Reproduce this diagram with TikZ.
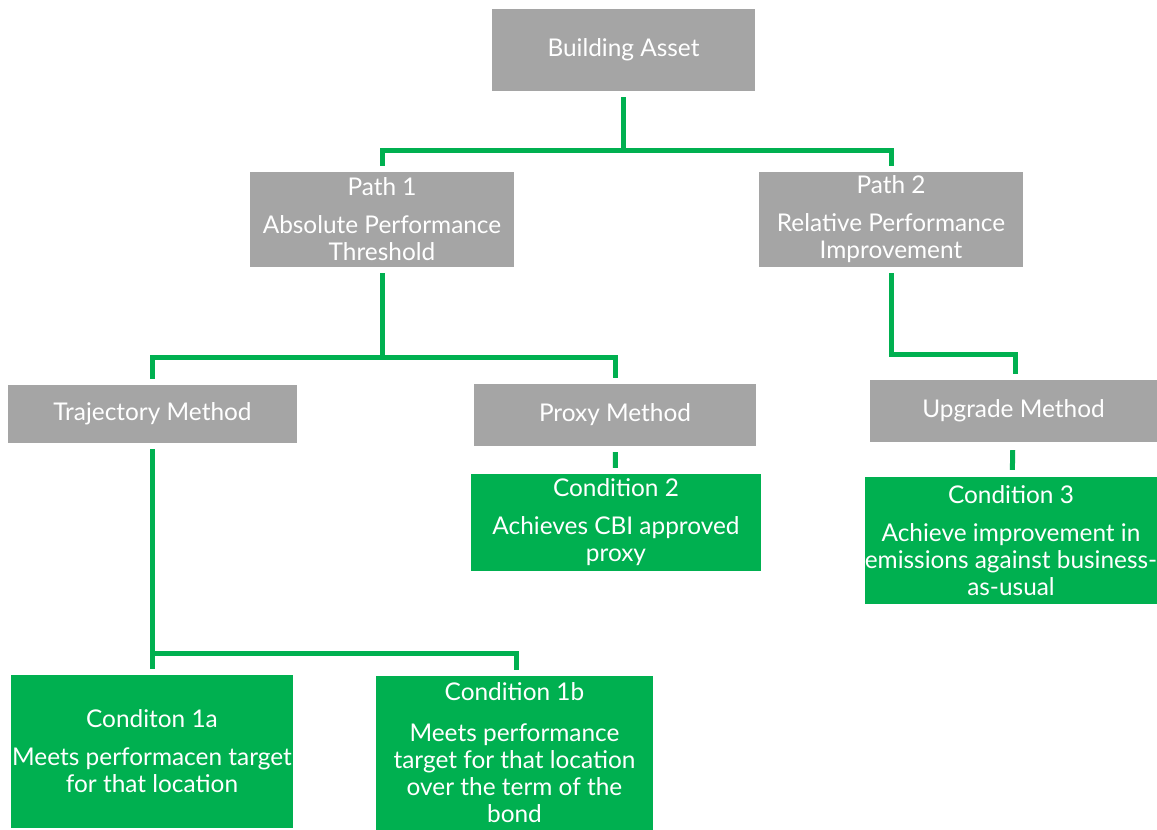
\documentclass[tikz,border=0pt]{standalone}
\usepackage{fontspec}
\setmainfont{Lato}
\definecolor{boxgray}{HTML}{A5A5A5}
\definecolor{condgreen}{HTML}{00B050}

\begin{document}
\begin{tikzpicture}[x=1pt,y=-1pt,
			graybox/.style={fill=boxgray, text=white, inner sep=0pt, align=center, font=\fontsize{24.4}{27}\selectfont},
			greenbox/.style={graybox, fill=condgreen},
			link/.style={draw=condgreen, line width=5pt, shorten <=6pt, shorten >=6pt},
		]
			\useasboundingbox (0,0) rectangle (1157,830);

			% top level
			\node[graybox, minimum width=263pt, minimum height=82pt] (asset) at (623.5,50) {Building Asset};

			% paths
			\node[graybox, minimum width=264pt, minimum height=95pt] (path1) at (382,219.5) {Path 1\\[11pt]Absolute Performance\\Threshold};
			\node[graybox, minimum width=264pt, minimum height=95pt] (path2) at (891,219.5) {Path 2\\[11pt]Relative Performance\\Improvement};

			% methods
			\node[graybox, minimum width=289pt, minimum height=58pt] (trajectory) at (152.5,414) {Trajectory Method};
			\node[graybox, minimum width=282pt, minimum height=62pt] (proxy) at (615,415) {Proxy Method};
			\node[graybox, minimum width=287pt, minimum height=62pt] (upgrade) at (1013.5,411) {Upgrade Method};

			% conditions
			\node[greenbox, minimum width=290pt, minimum height=97pt] (cond2) at (616,522.5) {Condition 2\\[11pt]Achieves CBI approved\\proxy};
			\node[greenbox, minimum width=292pt, minimum height=127pt] (cond3) at (1011,540.5) {Condition 3\\[11pt]Achieve improvement in\\emissions against business-\\as-usual};
			\node[greenbox, minimum width=282pt, minimum height=153pt] (cond1a) at (152,751.5) {Conditon 1a\\[11pt]Meets performacen target\\for that location};
			\node[greenbox, minimum width=277pt, minimum height=154pt] (cond1b) at (514.5,753) {Condition 1b\\[14pt]Meets performance\\target for that location\\over the term of the\\bond};

			% connectors
			\draw[link] (asset.south) -- ++(0,59) -| (path1.north);
			\draw[link] (asset.south) -- ++(0,59) -| (path2.north);
			\draw[link] (path1.south) -- ++(0,90) -| (trajectory.north);
			\draw[link] (path1.south) -- ++(0,90) -| (proxy.north);
			\draw[link] (path2.south) -- ++(0,87) -| ([xshift=2pt]upgrade.north);
			\draw[link] (proxy) -- (cond2);
			\draw[link, shorten <=8pt, shorten >=7pt] (upgrade) -- (cond3);
			\draw[link] (trajectory.south) -- ++(0,210) -| (cond1a.north);
			\draw[link] (trajectory.south) -- ++(0,210) -| ([xshift=1.5pt]cond1b.north);

		\end{tikzpicture}
\end{document}
